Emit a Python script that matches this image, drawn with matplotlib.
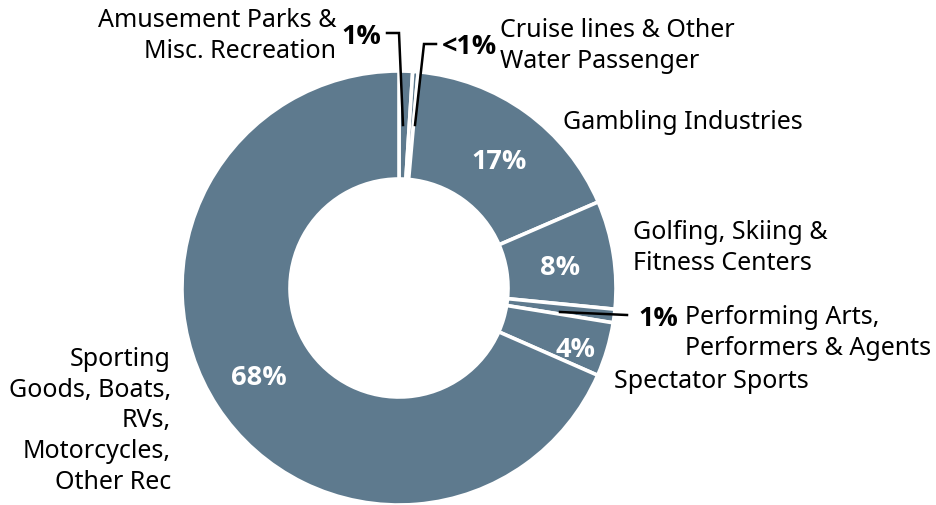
import matplotlib.pyplot as plt

# Shares of the recreation sector, clockwise from the top
categories = ["Amusement Parks &\nMisc. Recreation",
              "Cruise lines & Other\nWater Passenger",
              "Gambling Industries",
              "Golfing, Skiing &\nFitness Centers",
              "Performing Arts,\nPerformers & Agents",
              "Spectator Sports",
              "Sporting\nGoods, Boats,\nRVs,\nMotorcycles,\nOther Rec"]
shares = [1, 0.4, 17, 8, 1, 4, 68]
share_labels = ["1%", "<1%", "17%", "8%", "1%", "4%", "68%"]

color = "#5e7a8e"
plt.rcParams['font.family'] = ['Noto Sans', 'DejaVu Sans']
bold_font = ['Open Sans', 'DejaVu Sans']

W, H = 936, 506
fig = plt.figure(figsize=(W / 100, H / 100), dpi=100)
ax = fig.add_axes([0, 0, 1, 1])

# pixel-like coordinates, y grows downwards, so the angles run clockwise
cx, cy, r = 399, 289, 217
ax.pie(shares, center=(cx, cy), radius=r, startangle=-90, counterclock=True,
       colors=[color] * len(shares),
       wedgeprops=dict(width=108, edgecolor="white", linewidth=2.6))
ax.set_xlim(0, W)
ax.set_ylim(H, 0)
ax.set_aspect("equal")
ax.axis("off")

fs = 18
bfs = 19.5
ls = 1.3

# values inside the ring
inside = {2: (499, 162), 3: (560, 268), 5: (576, 350), 6: (259, 378)}
for i, (x, y) in inside.items():
    ax.text(x, y, share_labels[i], color="white", fontsize=bfs, fontweight="bold",
            family=bold_font, ha="center", va="center")

# category names
ax.text(336, 36, categories[0], fontsize=fs, ha="right", va="center", linespacing=ls)
ax.text(500, 46, categories[1], fontsize=fs, ha="left", va="center", linespacing=ls)
ax.text(563, 122, categories[2], fontsize=fs, ha="left", va="center")
ax.text(633, 248, categories[3], fontsize=fs, ha="left", va="center", linespacing=ls)
ax.text(685, 333, categories[4], fontsize=fs, ha="left", va="center", linespacing=ls)
ax.text(614, 381, categories[5], fontsize=fs, ha="left", va="center")
ax.text(171, 421, categories[6], fontsize=fs, ha="right", va="center", linespacing=ls)

# small slices: bold value outside with a leader line
ax.text(381, 37, share_labels[0], fontsize=bfs, fontweight="bold", family=bold_font,
        ha="right", va="center")
ax.plot([387, 399, 403], [34, 34, 126], color="black", lw=1.8, solid_joinstyle="miter")
ax.text(442, 47, share_labels[1], fontsize=bfs, fontweight="bold", family=bold_font,
        ha="left", va="center")
ax.plot([436, 424, 415], [45, 45, 126], color="black", lw=1.8, solid_joinstyle="miter")
ax.text(638, 319, share_labels[4], fontsize=bfs, fontweight="bold", family=bold_font,
        ha="left", va="center")
ax.plot([560, 627], [313, 316], color="black", lw=1.8)

fig.savefig("out.png", dpi=100)
